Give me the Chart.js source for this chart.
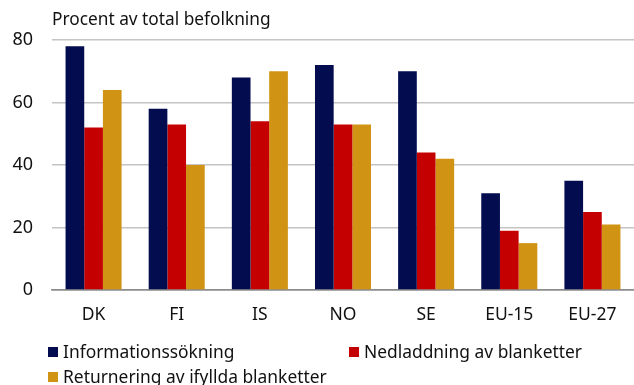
<!DOCTYPE html>
<html lang="sv">
<head>
<meta charset="utf-8">
<title>E-förvaltning</title>
<script src="https://cdn.jsdelivr.net/npm/chart.js@4.4.1/dist/chart.umd.min.js"></script>
<style>
  html, body { margin: 0; padding: 0; background: #fff; }
  #wrap { width: 634px; height: 385px; position: relative; }
</style>
</head>
<body>
<div id="wrap"><canvas id="egovChart"></canvas></div>
<script>
/**************************************************
 * DATA
 **************************************************/
const countries = ["DK", "FI", "IS", "NO", "SE", "EU-15", "EU-27"];
const seriesNames = [
  "Informationssökning",
  "Nedladdning av blanketter",
  "Returnering av ifyllda blanketter"
];
const infoSearch   = [78, 58, 68, 72, 70, 31, 35];
const formDownload = [52, 53, 54, 53, 44, 19, 25];
const formReturn   = [64, 40, 70, 53, 42, 15, 21];
const yTicks = [0, 20, 40, 60, 80];
const unitLabel = "Procent av total befolkning";

const FONT = "'Noto Sans', 'Open Sans', sans-serif";
const COLORS = ["#020c4e", "#c50000", "#d09314"];

/**************************************************
 * TITLE + TWO-COLUMN LEGEND (drawn on the canvas)
 **************************************************/
const captionPlugin = {
  id: "caption",
  afterDraw(chart) {
    const ctx = chart.ctx;
    ctx.save();
    ctx.fillStyle = "#111";
    ctx.textBaseline = "alphabetic";
    ctx.textAlign = "left";
    ctx.font = "17.3px " + FONT;
    ctx.fillText(unitLabel, 52, 25);

    // legend: two columns, wraps to a second row
    const cols = [48, 349];
    const rows = [352, 377];
    ctx.font = "17.4px " + FONT;
    ctx.textBaseline = "middle";
    chart.data.datasets.forEach((ds, i) => {
      const x = cols[i % 2];
      const y = rows[Math.floor(i / 2)];
      ctx.fillStyle = ds.backgroundColor;
      ctx.fillRect(x, y - 5, 10, 10);
      ctx.fillStyle = "#111";
      ctx.fillText(ds.label, x + 15, y + 1);
    });
    ctx.restore();
  }
};

/**************************************************
 * BAR CHART
 **************************************************/
function drawChart() {
  const ctx = document.getElementById("egovChart").getContext("2d");
  const values = [infoSearch, formDownload, formReturn];

  new Chart(ctx, {
    type: "bar",
    data: {
      labels: countries,
      datasets: values.map((v, i) => ({
        label: seriesNames[i],
        data: v,
        backgroundColor: COLORS[i],
        borderWidth: 0,
        barPercentage: 1.0,
        categoryPercentage: 0.674
      }))
    },
    options: {
      responsive: true,
      maintainAspectRatio: false,
      animation: false,
      layout: { padding: { top: 40, right: 0, bottom: 55, left: 0 } },
      plugins: {
        legend: { display: false },
        tooltip: { enabled: false }
      },
      scales: {
        x: {
          grid: { display: false, drawTicks: false },
          border: { display: true, color: "#8c8c8c", width: 1.5 },
          ticks: {
            color: "#111",
            padding: 15,
            font: { family: FONT, size: 17.5 }
          },
          afterFit: s => { s.height = 40; }
        },
        y: {
          min: 0,
          max: 80,
          afterBuildTicks: s => { s.ticks = yTicks.map(v => ({ value: v })); },
          grid: {
            drawTicks: false,
            color: c => (c.tick.value === 0 ? "#8c8c8c" : "#c4c4c4"),
            lineWidth: 1.5
          },
          border: { display: false },
          ticks: {
            color: "#111",
            padding: 19,
            font: { family: FONT, size: 18 }
          },
          afterFit: s => { s.width = 52; }
        }
      }
    },
    plugins: [captionPlugin]
  });
}

document.addEventListener("DOMContentLoaded", drawChart);
</script>
</body>
</html>
